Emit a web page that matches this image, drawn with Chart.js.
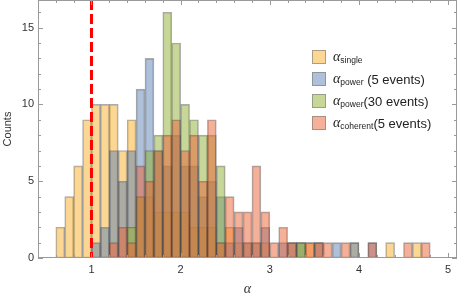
<!DOCTYPE html>
<html>
<head>
<meta charset="utf-8">
<script src="https://cdn.jsdelivr.net/npm/chart.js@4.4.1/dist/chart.umd.min.js"></script>
<style>
  body { margin: 0; background: #fff; }
  #wrap { position: relative; width: 458px; height: 298px; }
  #legend { position: absolute; left: 312px; top: 46px; font-family: "Liberation Sans", Arial, sans-serif; color: #222; }
  .row { height: 22px; display: flex; align-items: center; white-space: nowrap; }
  .sw { width: 12px; height: 12px; border: 1px solid rgba(120,120,120,0.6); margin-right: 7px; box-sizing: content-box; }
  .a { font-family: "Liberation Serif", serif; font-style: italic; font-size: 14px; }
  .sub { font-size: 8.5px; position: relative; top: 3px; }
  .ev { font-size: 13px; }
</style>
</head>
<body>
<div id="wrap">
  <canvas id="chart" width="458" height="298"></canvas>
  <div id="legend"></div>
</div>
<script>
// bin left edges (width 0.1)
const BINS = [0.6, 0.7, 0.8, 0.9, 1.0, 1.1, 1.2, 1.3, 1.4, 1.5, 1.6, 1.7, 1.8, 1.9, 2.0, 2.1, 2.2, 2.3, 2.4, 2.5, 2.6,
              2.7, 2.8, 2.9, 3.0, 3.1, 3.2, 3.3, 3.4, 3.5, 3.6, 3.7, 3.8, 3.9, 4.0, 4.1, 4.2, 4.3, 4.4, 4.5, 4.6, 4.7];
const BIN_WIDTH = 0.1;

const SINGLE     = [2, 4, 6, 9, 10, 10, 10, 7, 9, 4, 4, 3, 3, 3, 3, 2, 2, 2, 1, 2, 1,
                    1, 1, 1, 0, 0, 1, 1, 1, 1, 0, 0, 0, 1, 0, 0, 0, 1, 0, 0, 1, 0];
const POWER5     = [0, 0, 0, 0, 1, 2, 7, 5, 7, 11, 13, 7, 6, 8, 6, 6, 4, 5, 4, 1, 2,
                    1, 1, 2, 0, 1, 1, 1, 0, 1, 0, 1, 0, 1, 0, 1, 0, 0, 0, 0, 0, 0];
const POWER30    = [0, 0, 0, 0, 0, 0, 0, 0, 2, 4, 7, 8, 16, 14, 10, 9, 8, 8, 6, 0, 0,
                    0, 0, 0, 0, 0, 0, 1, 0, 0, 0, 0, 0, 0, 0, 0, 0, 0, 0, 0, 0, 0];
const COHERENT5  = [0, 0, 0, 0, 0, 0, 1, 2, 1, 6, 5, 7, 8, 9, 7, 8, 5, 9, 1, 4, 3,
                    3, 6, 3, 1, 2, 1, 0, 1, 1, 1, 0, 1, 0, 0, 1, 0, 0, 0, 1, 0, 1];

const X_TICKS = [1, 2, 3, 4, 5];
const Y_TICKS = [0, 5, 10, 15];
const THRESHOLD = 1;

const SERIES = [
    { name: 'single',   extra: '',            data: SINGLE,    rgb: [250, 175, 40] },
    { name: 'power',    extra: ' (5 events)', data: POWER5,    rgb: [94, 129, 181] },
    { name: 'power',    extra: '(30 events)', data: POWER30,   rgb: [143, 176, 50] },
    { name: 'coherent', extra: '(5 events)',  data: COHERENT5, rgb: [235, 98, 53] }
];

function rgba(c, a) { return 'rgba(' + c[0] + ',' + c[1] + ',' + c[2] + ',' + a + ')'; }

// legend with subscripts as html
const legend = document.getElementById('legend');
SERIES.forEach(s => {
    const row = document.createElement('div');
    row.className = 'row';
    row.innerHTML = `<span class="sw" style="background:${rgba(s.rgb, 0.5)}"></span>` +
        `<span class="a">α</span><span class="sub">${s.name}</span><span class="ev">${s.extra.replace(' ', '&nbsp;')}</span>`;
    legend.appendChild(row);
});

const framePlugin = {
    id: 'frame',
    afterDatasetsDraw(chart) {
        const { ctx, chartArea: a, scales: { x } } = chart;
        const px = x.getPixelForValue(THRESHOLD);
        ctx.save();
        ctx.strokeStyle = '#ff0000';
        ctx.lineWidth = 3;
        ctx.setLineDash([10, 4]);
        ctx.beginPath();
        ctx.moveTo(px, a.top);
        ctx.lineTo(px, a.bottom);
        ctx.stroke();
        ctx.restore();
    },
    afterDraw(chart) {
        const { ctx, chartArea: a, scales: { x, y } } = chart;
        ctx.save();
        ctx.strokeStyle = '#9a9a9a';
        ctx.lineWidth = 1;
        ctx.strokeRect(a.left + 0.5, a.top + 0.5, a.right - a.left - 1, a.bottom - a.top - 1);
        ctx.beginPath();
        for (let k = Math.ceil(x.min / 0.2); k * 0.2 <= x.max; k++) {
            const v = k * 0.2;
            const len = Math.abs(v - Math.round(v)) < 1e-6 ? 5 : 3;
            const p = Math.round(x.getPixelForValue(v)) + 0.5;
            ctx.moveTo(p, a.bottom); ctx.lineTo(p, a.bottom - len);
            ctx.moveTo(p, a.top); ctx.lineTo(p, a.top + len);
        }
        for (let v = 0; v <= y.max; v++) {
            const len = v % 5 === 0 ? 5 : 3;
            const p = Math.round(y.getPixelForValue(v)) + 0.5;
            ctx.moveTo(a.left, p); ctx.lineTo(a.left + len, p);
            ctx.moveTo(a.right, p); ctx.lineTo(a.right - len, p);
        }
        ctx.stroke();
        ctx.restore();
    }
};

Chart.defaults.font.family = '"Liberation Sans", Arial, sans-serif';
Chart.defaults.color = '#333';

new Chart(document.getElementById('chart'), {
    type: 'bar',
    data: {
        datasets: SERIES.map((s, i) => ({
            label: s.name + s.extra,
            data: BINS.map((b, j) => ({ x: b + BIN_WIDTH / 2, y: s.data[j] })),
            backgroundColor: rgba(s.rgb, 0.5),
            borderColor: 'rgba(70,70,70,0.45)',
            borderWidth: 1,
            borderSkipped: false,
            order: SERIES.length - i
        }))
    },
    options: {
        responsive: false,
        animation: false,
        layout: { padding: { top: 0, right: 1, left: 0, bottom: 0 } },
        datasets: { bar: { grouped: false, barPercentage: 1, categoryPercentage: 1 } },
        plugins: { legend: { display: false }, tooltip: { enabled: false } },
        scales: {
            x: {
                type: 'linear', min: 0.4, max: 5.1, offset: false,
                grid: { display: false, drawTicks: false, offset: false },
                border: { display: false },
                ticks: { padding: 5, font: { size: 11 } },
                afterBuildTicks: s => { s.ticks = X_TICKS.map(v => ({ value: v })); },
                afterFit: s => { s.height = 40; s.paddingLeft = 0; s.paddingRight = 0; },
                title: { display: true, text: 'α', padding: { top: 0, bottom: 0 },
                         font: { family: '"Liberation Serif", serif', style: 'italic', size: 14 } }
            },
            y: {
                min: 0, max: 16.8,
                grid: { display: false, drawTicks: false },
                border: { display: false },
                ticks: { padding: 4, font: { size: 11 } },
                afterBuildTicks: s => { s.ticks = Y_TICKS.map(v => ({ value: v })); },
                afterFit: s => { s.width = 38; s.paddingTop = 0; s.paddingBottom = 0; },
                title: { display: true, text: 'Counts', padding: { top: 1, bottom: 0 }, font: { size: 11 } }
            }
        }
    },
    plugins: [framePlugin]
});
</script>
</body>
</html>
